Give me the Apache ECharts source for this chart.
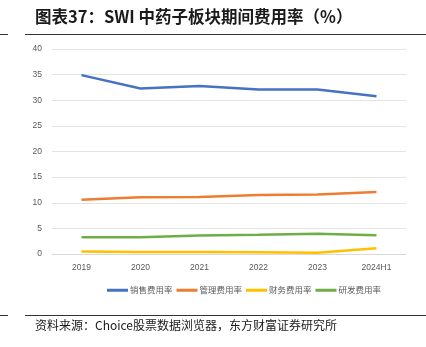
<!DOCTYPE html>
<html><head><meta charset="utf-8">
<script src="https://cdn.jsdelivr.net/npm/echarts@6/dist/echarts.min.js"></script>
<style>html,body{margin:0;padding:0;background:#fff;}#c{width:426px;height:347px;}</style>
</head><body><div id="c"></div>
<script>
const categories = ['2019','2020','2021','2022','2023','2024H1'];
const seriesNames = ['销售费用率','管理费用率','财务费用率','研发费用率'];
const sales = [34.9, 32.3, 32.8, 32.1, 32.1, 30.8];
const admin = [10.6, 11.05, 11.1, 11.5, 11.6, 12.1];
const finance = [0.5, 0.4, 0.4, 0.35, 0.25, 1.1];
const rnd = [3.25, 3.25, 3.6, 3.75, 3.95, 3.65];
const yTicks = [0,5,10,15,20,25,30,35,40];
const colors = ['#4472C4','#ED7D31','#FFC000','#70AD47'];
const dataList = [sales, admin, finance, rnd];

const chart = echarts.init(document.getElementById('c'));
const cjk = '"Noto Sans CJK SC", sans-serif';
chart.setOption({
  animation: false,
  title: [{
    text: '图表37：SWI 中药子板块期间费用率（%）',
    left: 30, top: 3,
    textStyle: {fontFamily: cjk, fontSize: 16.5, fontWeight: 'bold', color: '#1a1a1a'}
  },{
    text: '资料来源：Choice股票数据浏览器，东方财富证券研究所',
    left: 30, top: 314,
    textStyle: {fontFamily: cjk, fontSize: 12, fontWeight: 'normal', color: '#1a1a1a'}
  }],
  graphic: [
    {type:'line', shape:{x1:0,y1:34.5,x2:8,y2:34.5}, style:{stroke:'#333',lineWidth:1}},
    {type:'line', shape:{x1:25,y1:34.5,x2:426,y2:34.5}, style:{stroke:'#333',lineWidth:1}},
    {type:'line', shape:{x1:0,y1:315.5,x2:8,y2:315.5}, style:{stroke:'#333',lineWidth:1}},
    {type:'line', shape:{x1:25,y1:315.5,x2:426,y2:315.5}, style:{stroke:'#333',lineWidth:1}}
  ],
  legend: {
    data: seriesNames,
    top: 281, left: 102,
    itemWidth: 21, itemHeight: 3, itemGap: 4,
    icon: 'rect',
    textStyle: {fontFamily: cjk, fontSize: 8.5, color: '#595959', padding: [0,0,0,-3]}
  },
  grid: {left: 52, right: 20, top: 49, bottom: 93},
  xAxis: {
    type: 'category', data: categories, boundaryGap: true,
    axisLine: {show: true, lineStyle: {color: '#d9d9d9'}},
    axisTick: {show: false},
    axisLabel: {color: '#595959', fontSize: 8.5, margin: 9, fontFamily: 'Liberation Sans'}
  },
  yAxis: {
    type: 'value', min: yTicks[0], max: yTicks[yTicks.length-1], interval: 5,
    axisLine: {show: false}, axisTick: {show: false},
    axisLabel: {color: '#595959', fontSize: 8.5, margin: 10, fontFamily: 'Liberation Sans'},
    splitLine: {lineStyle: {color: '#e3e3e3', width: 1}}
  },
  series: seriesNames.map((n, i) => ({
    name: n, type: 'line', data: dataList[i],
    symbol: 'none', lineStyle: {width: 2.5, color: colors[i]},
    itemStyle: {color: colors[i]}
  }))
});
</script></body></html>
